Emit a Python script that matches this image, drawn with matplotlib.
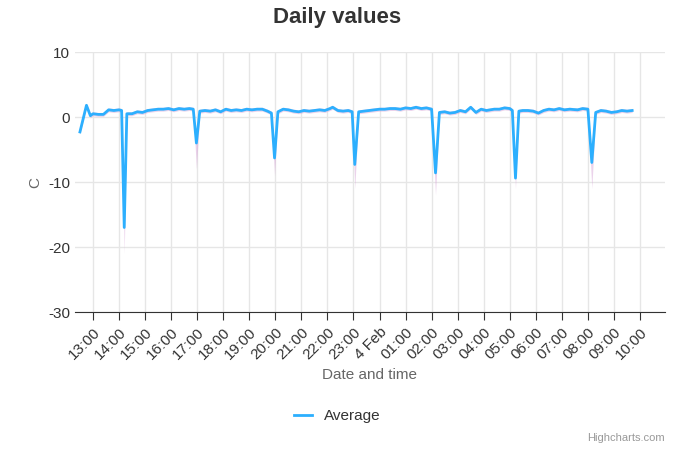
import matplotlib.pyplot as plt

# hours after 12:00 on 3 Feb
hours = [0.5, 0.75, 0.9, 1.0, 1.2, 1.4, 1.6, 1.8, 2.0, 2.1, 2.2, 2.3, 2.5, 2.7, 2.9,
         3.1, 3.3, 3.5, 3.7, 3.9, 4.1, 4.3, 4.5, 4.7, 4.85, 4.97, 5.1, 5.3, 5.5, 5.7,
         5.9, 6.1, 6.3, 6.5, 6.7, 6.9, 7.1, 7.3, 7.5, 7.7, 7.85, 7.97, 8.1, 8.3, 8.5,
         8.7, 8.9, 9.1, 9.3, 9.5, 9.7, 9.9, 10.1, 10.2, 10.4, 10.6, 10.8, 10.95, 11.05,
         11.2, 11.4, 11.6, 11.8, 12.0, 12.2, 12.4, 12.6, 12.8, 13.0, 13.2, 13.4, 13.6,
         13.8, 14.0, 14.15, 14.3, 14.5, 14.7, 14.9, 15.1, 15.3, 15.5, 15.7, 15.9, 16.1,
         16.4, 16.6, 16.8, 17.0, 17.1, 17.22, 17.35, 17.5, 17.7, 17.9, 18.1, 18.3, 18.5,
         18.7, 18.9, 19.1, 19.3, 19.6, 19.8, 20.0, 20.15, 20.3, 20.5, 20.7, 20.9, 21.1,
         21.3, 21.5, 21.7]
avg = [-2.3, 1.8, 0.2, 0.5, 0.4, 0.4, 1.1, 1.0, 1.1, 1.0, -17.0, 0.5, 0.5, 0.8, 0.7,
       1.0, 1.1, 1.2, 1.2, 1.3, 1.1, 1.3, 1.2, 1.3, 1.2, -4.0, 0.9, 1.0, 0.9, 1.1,
       0.8, 1.2, 1.0, 1.1, 1.0, 1.2, 1.1, 1.2, 1.2, 0.9, 0.6, -6.3, 0.8, 1.2, 1.1,
       0.9, 0.8, 1.0, 0.9, 1.0, 1.1, 1.0, 1.3, 1.5, 1.0, 0.9, 1.0, 0.8, -7.3,
       0.8, 0.9, 1.0, 1.1, 1.2, 1.2, 1.3, 1.3, 1.2, 1.4, 1.3, 1.5, 1.3,
       1.4, 1.2, -8.6, 0.7, 0.8, 0.6, 0.7, 1.0, 0.8, 1.5, 0.7, 1.2, 1.0,
       1.2, 1.2, 1.4, 1.3, 1.0, -9.4, 0.9, 1.0, 1.0, 0.9, 0.6, 1.0, 1.2,
       1.1, 1.3, 1.1, 1.2, 1.1, 1.3, 1.2, -7.0, 0.7, 1.0, 0.9, 0.7, 0.8,
       1.0, 0.9, 1.0]
low = [-2.6, 1.5, -0.1, 0.2, 0.1, 0.1, 0.8, 0.7, 0.8, 0.7, -21.0, 0.2, 0.2, 0.5, 0.4,
       0.7, 0.8, 0.9, 0.9, 1.0, 0.8, 1.0, 0.9, 1.0, 0.9, -8.0, 0.6, 0.7, 0.6, 0.8,
       0.5, 0.9, 0.7, 0.8, 0.7, 0.9, 0.8, 0.9, 0.9, 0.6, 0.3, -9.0, 0.5, 0.9, 0.8,
       0.6, 0.5, 0.7, 0.6, 0.7, 0.8, 0.7, 1.0, 1.2, 0.7, 0.6, 0.7, 0.5, -11.0,
       0.5, 0.6, 0.7, 0.8, 0.9, 0.9, 1.0, 1.0, 0.9, 1.1, 1.0, 1.2, 1.0,
       1.1, 0.9, -12.0, 0.4, 0.5, 0.3, 0.4, 0.7, 0.5, 1.2, 0.4, 0.9, 0.7,
       0.9, 0.9, 1.1, 1.0, 0.7, -11.0, 0.6, 0.7, 0.7, 0.6, 0.3, 0.7, 0.9,
       0.8, 1.0, 0.8, 0.9, 0.8, 1.0, 0.9, -11.0, 0.4, 0.7, 0.6, 0.4, 0.5,
       0.7, 0.6, 0.7]
high = [a + 0.3 for a in avg]
tick_pos = list(range(1, 23))
tick_labels = ['13:00', '14:00', '15:00', '16:00', '17:00', '18:00', '19:00', '20:00',
               '21:00', '22:00', '23:00', '4 Feb', '01:00', '02:00', '03:00', '04:00',
               '05:00', '06:00', '07:00', '08:00', '09:00', '10:00']

plt.rcParams['font.family'] = 'Liberation Sans'
plt.rcParams['axes.unicode_minus'] = False
fig = plt.figure(figsize=(6.75, 4.5), dpi=100)
ax = fig.add_axes([75/675, 138/450, 590/675, 260/450])

ax.fill_between(hours, low, high, color='#d9a8d9', alpha=0.5, lw=0)
ax.plot(hours, avg, color='#2caffe', lw=2, label='Average')

ax.set_xlim(0.31, 22.96)
ax.set_ylim(-30, 10)
ax.set_yticks([-30, -20, -10, 0, 10])
ax.set_xticks(tick_pos)
ax.set_xticklabels(tick_labels, rotation=45, ha='right', rotation_mode='anchor', fontsize=11, color='#333333')
ax.tick_params(axis='y', length=0, labelsize=11, labelcolor='#333333')
ax.tick_params(axis='x', length=6, color='#333333')
ax.grid(True, color='#e6e6e6', lw=1)
ax.set_axisbelow(True)
for s in ['top', 'right', 'left']:
    ax.spines[s].set_visible(False)
ax.spines['bottom'].set_color('#333333')
ax.set_ylabel('C', color='#666666', fontsize=11)
ax.set_xlabel('Date and time', color='#666666', fontsize=11)

fig.suptitle('Daily values', x=0.5, y=0.985, fontsize=16, fontweight='bold', color='#333333')
fig.legend(loc='center', bbox_to_anchor=(0.5, 1 - 416/450), frameon=False, fontsize=11,
           handlelength=1.2, labelcolor='#333333')
fig.text(0.985, 0.02, 'Highcharts.com', ha='right', fontsize=8, color='#999999')
fig.savefig('out.png', dpi=100)
